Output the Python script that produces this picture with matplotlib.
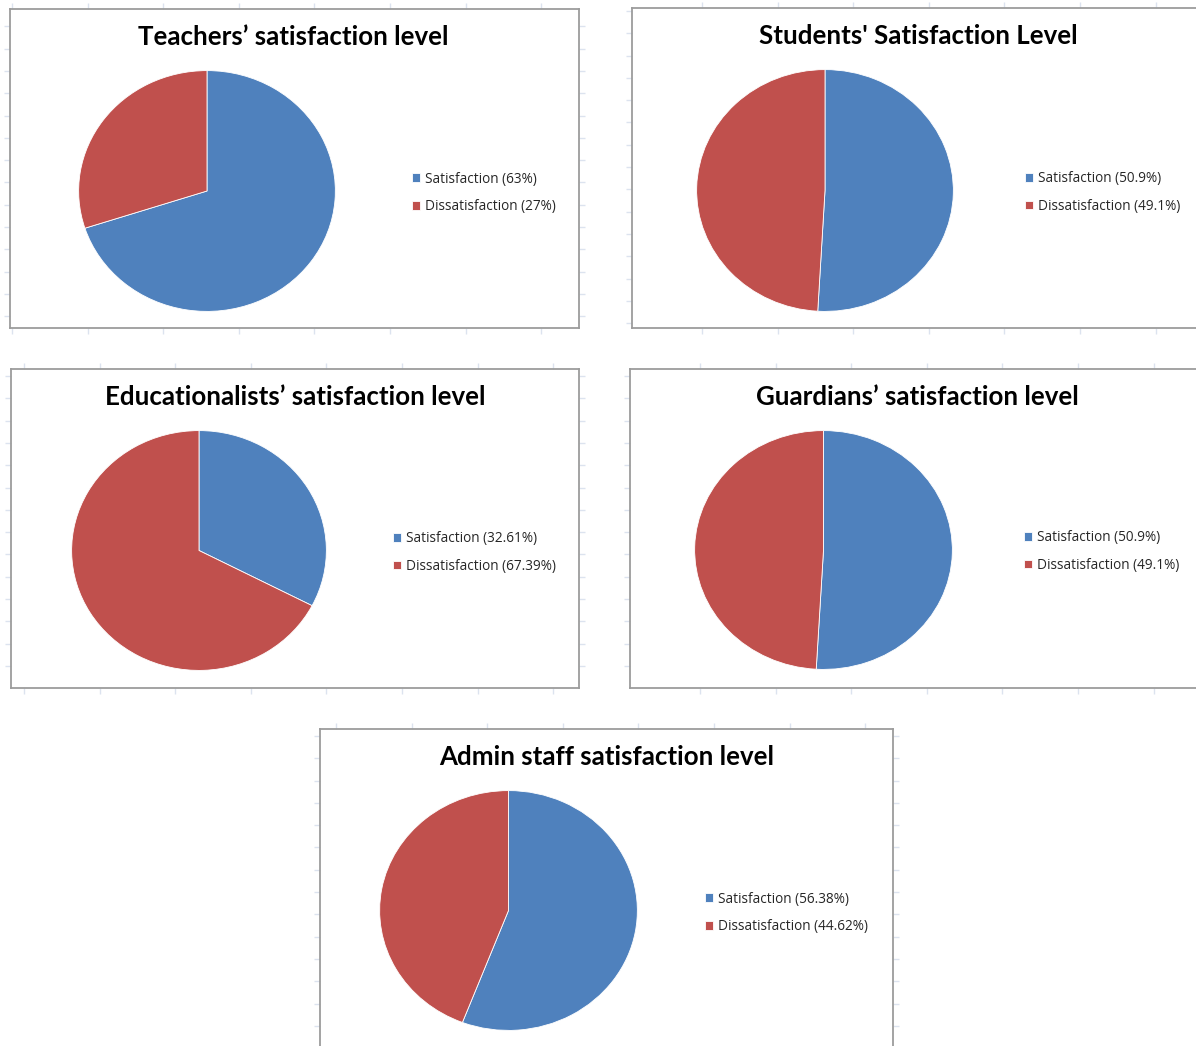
import numpy as np
import matplotlib
matplotlib.use("Agg")
import matplotlib.pyplot as plt

# survey results (percent)
groups = ["Teachers", "Students", "Educationalists", "Guardians", "Admin staff"]
titles = ["Teachers\u2019 satisfaction level",
          "Students' Satisfaction Level",
          "Educationalists\u2019 satisfaction level",
          "Guardians\u2019 satisfaction level",
          "Admin staff satisfaction level"]
satisfaction = [63, 50.9, 32.61, 50.9, 56.38]
dissatisfaction = [27, 49.1, 67.39, 49.1, 44.62]
categories = ["Satisfaction", "Dissatisfaction"]

BLUE = "#4F81BD"
RED = "#C0504D"

W, H = 1196, 1046
fig = plt.figure(figsize=(W / 100, H / 100), dpi=100)
fig.patch.set_facecolor("white")


def px_rect(x0, y0, x1, y1):
    # pixel box (top-left origin) -> figure fraction rect
    return [x0 / W, 1 - y1 / H, (x1 - x0) / W, (y1 - y0) / H]


# chart frames, pie boxes, title centres, legend anchors (pixels)
frames = [(10, 9, 579, 328), (632, 8, 1210, 328), (11, 369, 579, 688),
          (630, 369, 1210, 688), (320, 729, 893, 1060)]
pie_boxes = [(78, 70, 336, 312), (696, 69, 954, 312), (71, 430, 327, 671),
             (694, 430, 953, 670), (379, 790, 638, 1031)]
title_pos = [(293, 37), (918, 36), (295, 397), (917, 397), (607, 757)]
legend_pos = [(412, 193), (1025, 192.5), (393, 552.5), (1024, 551.5), (705, 913)]
grid_phase = [(12, 4), (702, 11), (24, 376), (700, 376), (336, 736)]

for i in range(len(groups)):
    x0, y0, x1, y1 = frames[i]
    box = fig.add_axes(px_rect(x0, y0, x1, y1))
    box.set_facecolor("white")
    for sp in box.spines.values():
        sp.set_color("#9c9c9c")
        sp.set_linewidth(1.3)
    # spreadsheet gridline stubs peeking out around the frame
    gx, gy = grid_phase[i]
    box.set_xticks(np.arange(gx, x1, 75.6))
    box.set_yticks(np.arange(gy, y1, 22.3))
    box.tick_params(direction="out", length=4.5, width=1, color="#dce3ef",
                    top=True, right=True, labelleft=False, labelbottom=False)
    box.set_xlim(x0, x1)
    box.set_ylim(y1, y0)

    tx, ty = title_pos[i]
    fig.text(tx / W, 1 - ty / H, titles[i], ha="center", va="center",
             fontsize=18.6, fontweight="bold", family="Lato", color="black")

    ax = fig.add_axes(px_rect(*pie_boxes[i]))
    wedges, _ = ax.pie([satisfaction[i], dissatisfaction[i]], colors=[BLUE, RED],
                       startangle=90, counterclock=False, radius=1,
                       wedgeprops=dict(edgecolor="white", linewidth=0.6))
    ax.set_aspect("auto")
    ax.set_xlim(-1.005, 1.005)
    ax.set_ylim(-1.005, 1.005)
    ax.axis("off")

    labels = [f"{categories[0]} ({satisfaction[i]:g}%)",
              f"{categories[1]} ({dissatisfaction[i]:g}%)"]
    lx, ly = legend_pos[i]
    fig.legend(wedges, labels, loc="center left",
               bbox_to_anchor=(lx / W, 1 - ly / H),
               frameon=False, prop={"family": "Open Sans", "size": 9.8},
               handlelength=0.6, handleheight=0.6, handletextpad=0.38,
               labelspacing=0.95, borderpad=0, borderaxespad=0,
               labelcolor="#262626")

fig.savefig("out.png", dpi=100, facecolor="white")
